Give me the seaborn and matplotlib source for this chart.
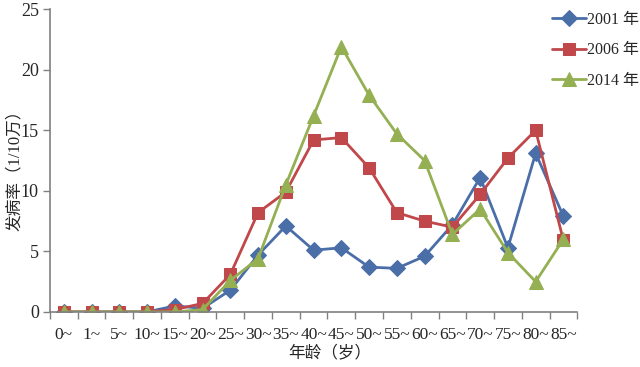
import pandas as pd
import matplotlib
matplotlib.use("Agg")
import matplotlib.pyplot as plt
import seaborn as sns
from matplotlib.ticker import FixedLocator

age_groups = ["0~", "1~", "5~", "10~", "15~", "20~", "25~", "30~", "35~", "40~",
              "45~", "50~", "55~", "60~", "65~", "70~", "75~", "80~", "85~"]
rate_2001 = [0, 0, 0, 0, 0.5, 0.3, 1.8, 4.7, 7.1, 5.1, 5.3, 3.7, 3.6, 4.6, 7.2, 11.1, 5.3, 13.1, 7.9]
rate_2006 = [0, 0, 0, 0, 0.2, 0.7, 3.1, 8.2, 9.9, 14.2, 14.4, 11.9, 8.2, 7.5, 7.0, 9.7, 12.7, 15.0, 5.9]
rate_2014 = [0, 0, 0, 0, 0, 0.2, 2.6, 4.4, 10.5, 16.2, 21.9, 17.9, 14.7, 12.5, 6.4, 8.5, 4.9, 2.5, 6.0]
series_names = ["2001 年", "2006 年", "2014 年"]

rows = []
for name, vals in zip(series_names, [rate_2001, rate_2006, rate_2014]):
    for i, v in enumerate(vals):
        rows.append({"pos": i, "rate": v, "year": name})
df = pd.DataFrame(rows)

sns.set_style("white")
FONT = ["Liberation Serif", "Noto Sans CJK SC"]
plt.rcParams["font.family"] = FONT

palette = {"2001 年": "#4a6ea8", "2006 年": "#c0474a", "2014 年": "#94b052"}
markers = {"2001 年": "D", "2006 年": "s", "2014 年": "^"}
sizes = {"2001 年": 8, "2006 年": 9, "2014 年": 10}

fig = plt.figure(figsize=(6.4, 3.67), dpi=100)
ax = fig.add_axes([0.078, 0.150, 0.824, 0.825])

for name in series_names:
    sub = df[df["year"] == name]
    sns.lineplot(data=sub, x="pos", y="rate", color=palette[name], marker=markers[name],
                 markersize=sizes[name], markeredgecolor=palette[name], linewidth=2,
                 label=name, ax=ax)

ax.set_xlim(-0.5, len(age_groups) - 0.5)
ax.set_ylim(0, 25)
ax.set_yticks([0, 5, 10, 15, 20, 25])
ax.set_xticks(range(len(age_groups)))
ax.set_xticklabels(age_groups)
ax.xaxis.set_minor_locator(FixedLocator([i - 0.5 for i in range(len(age_groups) + 1)]))
ax.tick_params(axis="x", which="major", length=0, labelsize=12.5, pad=11)
ax.tick_params(axis="x", which="minor", length=5, color="#808080", width=1)
ax.tick_params(axis="y", length=5, color="#808080", width=1, labelsize=13, left=True, pad=3)
ax.tick_params(axis="x", bottom=True, which="both")

for s in ["top", "right"]:
    ax.spines[s].set_visible(False)
for s in ["left", "bottom"]:
    ax.spines[s].set_color("#808080")
    ax.spines[s].set_linewidth(1.2)

ax.set_xlabel("年龄（岁）", fontsize=12)
ax.xaxis.set_label_coords(0.53, -0.11)
ax.set_ylabel("发病率（1/10万）", fontsize=12)
ax.yaxis.set_label_coords(-0.052, 0.48)

ax.legend(loc="upper left", bbox_to_anchor=(0.853, 0.985), bbox_transform=fig.transFigure,
          frameon=False, fontsize=11.5, handlelength=2.1, handletextpad=0.05,
          labelspacing=0.9, borderaxespad=0)

fig.savefig("out.png", dpi=100)
